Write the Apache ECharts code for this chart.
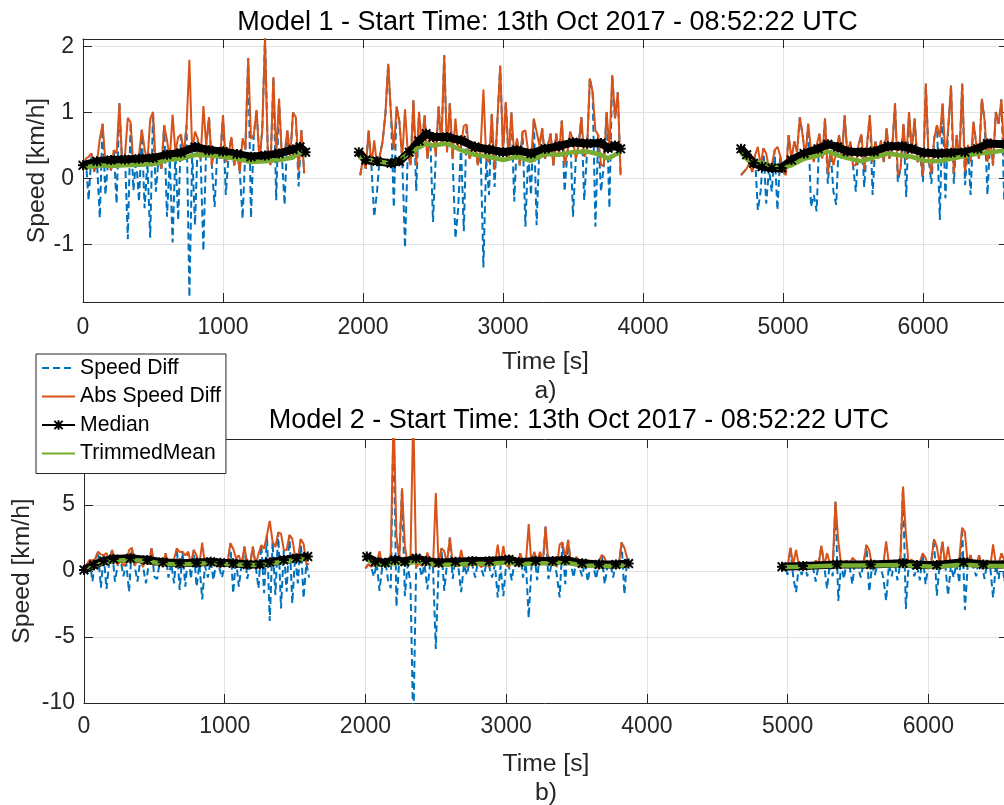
<!DOCTYPE html>
<html><head><meta charset="utf-8">
<script src="https://cdn.jsdelivr.net/npm/echarts@6/dist/echarts.min.js"></script>
<style>html,body{margin:0;padding:0;background:#fff}#c{width:1004px;height:805px}</style>
</head><body><div id="c"></div>
<script>
// ---------- DATA ----------
const seriesNames = ['Speed Diff', 'Abs Speed Diff', 'Median', 'TrimmedMean'];
const titles = ['Model 1 - Start Time: 13th Oct 2017 - 08:52:22 UTC', 'Model 2 - Start Time: 13th Oct 2017 - 08:52:22 UTC'];
const subLabels = ['a)', 'b)'];
const sampleStep = 20; // seconds between samples of Speed Diff

// Model 1 speed difference, three recording segments
const m1SegStart = [0, 1980, 4700];
const m1DiffA = [0.15,0.3,-0.33,0.38,0.1,0.25,-0.6,0.83,-0.25,0.3,0.12,0.43,-0.38,1.14,0.2,0.35,-0.92,0.85,-0.18,0.3,
  -0.35,0.74,-0.45,0.25,-0.9,1.01,-0.2,0.3,0.15,0.81,-0.58,0.3,-0.97,0.4,-0.63,0.67,0.35,0.81,-1.8,0.4,
  -0.71,0.6,0.3,-1.1,0.5,0.93,0.2,-0.43,0.45,0.3,0.96,-0.25,0.35,0.63,0.2,0.4,0.1,-0.61,0.45,1.83,
  -0.6,0.66,1.04,0.3,0.71,2.13,0.4,0.2,1.54,-0.33,1.21,0.35,-0.4,0.73,0.3,1.0,0.93,-0.12,0.73,0.08];
const m1DiffB = [0.05,0.3,0.15,0.73,0.2,-0.58,-0.2,0.35,0.56,0.98,1.74,0.96,-0.44,1.09,0.86,0.3,-1.05,0.4,0.2,1.19,
  -0.19,1.01,0.5,0.96,0.3,0.66,-0.66,0.35,1.09,0.5,1.87,0.4,1.14,0.3,-0.91,-0.45,0.5,-0.8,0.82,0.3,
  0.4,0.56,0.2,0.45,-1.35,0.3,-0.25,0.98,-0.13,0.88,1.71,0.4,1.16,0.3,1.0,-0.35,0.61,0.2,0.71,-0.73,
  0.4,-0.25,0.91,-0.71,0.5,0.76,0.3,0.5,0.68,0.2,0.68,0.35,0.88,-0.2,0.4,0.71,-0.58,0.3,0.5,0.93,
  -0.33,0.4,1.52,1.31,-0.73,0.66,-0.2,0.2,1.01,-0.45,1.57,0.91,1.31,0.05];
const m1DiffC = [0.05,0.1,0.15,0.23,0.1,0.35,-0.48,-0.2,0.46,-0.38,0.15,-0.2,0.43,-0.48,0.35,0.1,0.05,0.66,0.3,0.56,
  0.4,0.93,0.66,0.3,0.83,-0.43,-0.25,-0.5,0.68,0.3,0.91,-0.08,0.43,-0.2,-0.4,0.66,0.3,0.96,0.35,0.56,
  0.2,-0.2,0.51,0.67,-0.13,0.51,0.96,-0.25,0.56,0.3,0.58,0.25,0.76,0.3,0.45,1.14,-0.05,0.15,0.83,-0.28,
  1.01,0.4,0.91,0.25,0.35,-0.05,1.44,0.3,-0.08,0.61,0.81,-0.63,1.14,-0.3,0.76,1.41,-0.08,0.66,0.3,1.44,
  -0.1,0.51,-0.25,0.86,0.53,0.3,1.21,0.88,-0.25,0.61,0.2,1.01,0.83,1.2,-0.33,0.66];

// Model 1 median / trimmed mean (null = gap between segments)
const m1SmoothT = [0,100,200,300,400,500,600,700,800,900,1000,1100,1200,1300,1400,1500,1550,1590,1780,
  1970,2020,2100,2200,2260,2330,2400,2450,2500,2600,2700,2800,2900,3000,3100,3200,3300,3400,3500,3600,3700,3750,3800,3840,4270,
  4700,4740,4790,4850,4920,4990,5060,5150,5250,5320,5390,5460,5560,5650,5750,5850,5920,6010,6110,6200,6300,6390,6460,6600];
const m1Median = [0.2,0.26,0.28,0.29,0.3,0.31,0.36,0.39,0.48,0.43,0.41,0.37,0.33,0.35,0.38,0.44,0.48,0.4,null,
  0.4,0.28,0.26,0.23,0.26,0.4,0.57,0.68,0.63,0.63,0.58,0.48,0.44,0.4,0.43,0.38,0.45,0.49,0.55,0.53,0.54,0.46,0.5,0.45,null,
  0.45,0.36,0.23,0.18,0.16,0.16,0.28,0.38,0.45,0.52,0.48,0.41,0.4,0.41,0.49,0.49,0.45,0.39,0.38,0.39,0.4,0.45,0.53,0.52];
const m1Trimmed = [0.16,0.2,0.19,0.2,0.21,0.22,0.28,0.3,0.36,0.35,0.33,0.3,0.25,0.26,0.28,0.32,0.4,0.36,null,
  0.33,0.3,0.26,0.23,0.28,0.38,0.47,0.53,0.5,0.53,0.43,0.36,0.33,0.28,0.33,0.27,0.37,0.36,0.4,0.41,0.36,0.3,0.36,0.4,null,
  0.39,0.3,0.24,0.24,0.19,0.16,0.2,0.3,0.35,0.41,0.35,0.31,0.26,0.32,0.38,0.35,0.33,0.27,0.26,0.3,0.34,0.38,0.39,0.43];

// Model 2 speed difference
const m2SegStart = [0, 2000, 4960];
const m2DiffA = [0.1,0.5,0.83,-0.8,0.9,1.46,-1.26,1.2,-1.36,0.7,1.6,-0.8,0.5,0.83,-0.4,0.6,-1.57,1.77,0.4,-0.8,
  0.83,0.3,-0.93,0.5,1.72,-0.43,-0.6,0.83,0.3,1.34,-0.5,0.6,-0.93,1.72,-1.44,1.46,-1.19,1.46,-0.6,1.6,
  -1.19,0.5,-2.15,0.4,-0.5,0.83,-0.68,0.7,0.3,-0.5,0.4,0.6,2.1,-1.69,0.96,-1.19,0.5,1.84,-0.6,0.5,
  1.84,0.4,-1.31,1.97,-1.69,2.73,-3.79,2.22,-1.82,2.93,-2.83,1.6,-1.57,2.73,-2.45,1.09,-0.93,2.42,-2.07,0.58,-0.5];
const m2DiffB = [0.2,0.5,0.33,-0.43,0.6,-1.5,0.4,0.96,-0.68,-1.31,12,-2.7,0.8,6.26,-1.9,0.5,-1.0,-12,0.3,0.58,
  -0.4,0.5,-1.4,0.6,0.3,-5.9,0.4,1.72,-1.5,0.6,2.53,-0.6,0.96,0.3,-1.6,0.5,-0.3,0.7,0.4,-0.5,
  0.8,0.3,-0.4,0.6,0.3,-0.5,0.5,-2.0,0.4,-1.9,0.5,0.3,-0.7,0.8,0.4,1.34,-0.5,0.6,-3.55,0.4,
  1.46,-0.7,1.46,0.5,3.36,-0.6,0.4,0.8,-0.3,-2.0,2.17,-1.0,2.35,0.5,-0.5,1.09,0.3,-0.4,0.7,-0.8,
  0.5,0.3,-0.6,0.8,1.21,-1.0,0.4,0.6,-0.5,0.7,0.4,2.17,-1.77,0.96];
const m2DiffC = [0.2,0.5,-0.3,1.77,-0.5,-1.6,0.4,-0.3,0.5,-0.4,0.6,0.3,-0.8,0.5,1.92,0.4,-1.35,0.6,-0.4,5.25,
  -2.27,0.5,-0.6,0.8,0.4,-1.0,0.8,0.3,-0.5,0.6,1.97,-1.57,0.4,-0.3,0.6,0.3,-0.5,-2.25,0.5,-0.4,
  0.8,-0.7,0.5,6.39,-2.88,0.5,0.9,-0.4,0.3,-0.7,1.34,-1.0,0.4,0.6,2.42,-1.87,0.5,2.22,0.5,-1.84,
  0.4,-0.5,0.6,-0.9,3.28,-2.95,0.5,1.2,0.3,-0.4,1.2,0.4,-0.6,0.8,0.3,-2.02,0.5,-0.6,1.34,-0.8,0.8];

const m2SmoothT = [0,70,140,210,330,450,560,680,800,900,970,1060,1160,1250,1320,1420,1510,1590,1800,
  2010,2070,2140,2210,2280,2360,2430,2520,2640,2760,2880,3020,3090,3210,3330,3420,3540,3660,3780,3870,4400,
  4960,5110,5350,5590,5820,5920,6060,6250,6390,6570];
const m2Median = [0.08,0.45,0.76,0.91,0.96,0.83,0.66,0.58,0.63,0.71,0.63,0.58,0.5,0.5,0.66,0.83,0.96,1.09,null,
  1.09,0.71,0.63,0.83,0.71,0.96,0.76,0.63,0.71,0.76,0.76,0.88,0.66,0.76,0.76,0.83,0.58,0.5,0.5,0.56,null,
  0.33,0.38,0.5,0.5,0.58,0.45,0.45,0.66,0.5,0.5];
const m2Trimmed = [0.08,0.4,0.65,0.78,0.83,0.75,0.55,0.5,0.55,0.6,0.55,0.5,0.45,0.45,0.55,0.72,0.85,0.98,null,
  0.9,0.5,0.45,0.6,0.55,0.7,0.6,0.45,0.5,0.55,0.55,0.65,0.5,0.58,0.58,0.65,0.42,0.38,0.38,0.45,null,
  0.3,0.32,0.42,0.42,0.45,0.38,0.33,0.5,0.38,0.38];

// axis ranges / ticks
const xTickStep = 1000;
const m1XMax = 6607, m2XMax = 6566;
const m1YRange = [-1.874, 2.117];
const m2YRange = [-10, 10], m2YStep = 5;

// ---------- BUILD ----------
const FONT = 'Arial, "Liberation Sans", Helvetica, sans-serif';
const AX = '#262626';

function diffPoints(starts, segs) {
  const pts = [];
  segs.forEach((seg, k) => {
    if (k > 0) pts.push([starts[k] - sampleStep / 2, null]);
    seg.forEach((v, i) => pts.push([starts[k] + i * sampleStep, v]));
  });
  return pts;
}
function pair(ts, vs) { return ts.map((t, i) => [t, vs[i]]); }

const starPath = 'path://M0,4L10,4L10,6L0,6Z M4,0L6,0L6,10L4,10Z M1.4,0L10,8.6L8.6,10L0,1.4Z M8.6,0L10,1.4L1.4,10L0,8.6Z';

function makeSeries(idx, diffPts, medPts, trimPts) {
  const base = { type: 'line', xAxisIndex: idx * 2, yAxisIndex: idx * 2, animation: false, connectNulls: false, silent: true };
  return [
    Object.assign({}, base, { name: seriesNames[0], data: diffPts, symbol: 'none',
      lineStyle: { color: '#0072BD', width: 2, type: [7, 4] }, itemStyle: { color: '#0072BD' } }),
    Object.assign({}, base, { name: seriesNames[1], data: diffPts.map(p => [p[0], p[1] === null ? null : Math.abs(p[1])]), symbol: 'none',
      lineStyle: { color: '#D95319', width: 2 }, itemStyle: { color: '#D95319' } }),
    Object.assign({}, base, { name: seriesNames[2], data: medPts, symbol: starPath, symbolSize: 10, showSymbol: true,
      lineStyle: { color: '#000', width: 8 }, itemStyle: { color: '#000' } }),
    Object.assign({}, base, { name: seriesNames[3], data: trimPts, symbol: 'none',
      lineStyle: { color: '#77AC30', width: 4.5 }, itemStyle: { color: '#77AC30' } })
  ];
}

function axesFor(gi, xmax, yr, ystep, cfg) {
  const tick = { show: true, inside: true, length: 9, lineStyle: { color: AX, width: 1 } };
  const line = { show: true, onZero: false, lineStyle: { color: AX, width: 1 } };
  const split = { show: true, lineStyle: { color: '#e2e2e2', width: 1 } };
  const xb = { type: 'value', gridIndex: gi, min: 0, max: xmax, interval: xTickStep, position: 'bottom',
    axisLine: line, axisTick: tick, splitLine: split,
    axisLabel: { show: true, margin: cfg.xLabelMargin, color: AX, fontSize: 23, fontFamily: FONT, showMaxLabel: false, formatter: v => String(v) },
    name: 'Time [s]\n' + subLabels[gi], nameLocation: 'middle', nameGap: cfg.xNameGap, nameMoveOverlap: false,
    nameTextStyle: { color: AX, fontSize: 24.7, fontFamily: FONT, lineHeight: 28.5 } };
  const xt = { type: 'value', gridIndex: gi, min: 0, max: xmax, interval: xTickStep, position: 'top',
    axisLine: line, axisTick: tick, splitLine: { show: false }, axisLabel: { show: false } };
  const yl = { type: 'value', gridIndex: gi, min: yr[0], max: yr[1], position: 'left',
    axisLine: line, axisTick: tick, splitLine: split,
    axisLabel: { show: true, margin: 9, color: AX, fontSize: 23, fontFamily: FONT, showMinLabel: cfg.showMinY, showMaxLabel: false, formatter: v => String(v) },
    name: 'Speed [km/h]', nameLocation: 'middle', nameGap: cfg.yNameGap, nameRotate: 90, nameMoveOverlap: false,
    nameTextStyle: { color: AX, fontSize: 24.7, fontFamily: FONT } };
  const yr2 = { type: 'value', gridIndex: gi, min: yr[0], max: yr[1], position: 'right',
    axisLine: line, axisTick: tick, splitLine: { show: false }, axisLabel: { show: false } };
  if (ystep) { yl.interval = ystep; yr2.interval = ystep; }
  return { x: [xb, xt], y: [yl, yr2] };
}

const a1 = axesFor(0, m1XMax, m1YRange, null, { xLabelMargin: 14, xNameGap: 46, yNameGap: 33.5, showMinY: false });
const a2 = axesFor(1, m2XMax, m2YRange, m2YStep, { xLabelMargin: 12, xNameGap: 47, yNameGap: 49, showMinY: true });

const noMarker = { opacity: 0 };
const option = {
  animation: false,
  backgroundColor: '#fff',
  grid: [
    { left: 83, top: 39, right: -4, height: 263, outerBoundsMode: 'none', containLabel: false },
    { left: 84, top: 439, right: -4, height: 264, outerBoundsMode: 'none', containLabel: false }
  ],
  xAxis: [a1.x[0], a1.x[1], a2.x[0], a2.x[1]],
  yAxis: [a1.y[0], a1.y[1], a2.y[0], a2.y[1]],
  legend: {
    show: true, orient: 'vertical', left: 36, top: 354, padding: [3, 5, 9, 5],
    itemWidth: 33, itemHeight: 12, itemGap: 6.5, backgroundColor: '#fff', borderColor: AX, borderWidth: 1,
    borderRadius: 0, selectedMode: false, z: 20,
    textStyle: { fontSize: 21.2, color: '#000', fontFamily: FONT, lineHeight: 22 },
    data: [
      { name: seriesNames[0], itemStyle: noMarker },
      { name: seriesNames[1], itemStyle: noMarker },
      { name: seriesNames[2] },
      { name: seriesNames[3], itemStyle: noMarker }
    ]
  },
  graphic: [
    { type: 'text', x: 547.5, y: 22.4, z: 10, style: { text: titles[0], fill: '#000', font: '27px ' + FONT, textAlign: 'center', textVerticalAlign: 'middle', align: 'center', verticalAlign: 'middle' } },
    { type: 'text', x: 578.8, y: 420.7, z: 10, style: { text: titles[1], fill: '#000', font: '27px ' + FONT, textAlign: 'center', textVerticalAlign: 'middle', align: 'center', verticalAlign: 'middle' } }
  ],
  series: [].concat(
    makeSeries(0, diffPoints(m1SegStart, [m1DiffA, m1DiffB, m1DiffC]), pair(m1SmoothT, m1Median), pair(m1SmoothT, m1Trimmed)),
    makeSeries(1, diffPoints(m2SegStart, [m2DiffA, m2DiffB, m2DiffC]), pair(m2SmoothT, m2Median), pair(m2SmoothT, m2Trimmed))
  )
};
const chart = echarts.init(document.getElementById('c'), null, { renderer: 'canvas' });
chart.setOption(option);
</script></body></html>
